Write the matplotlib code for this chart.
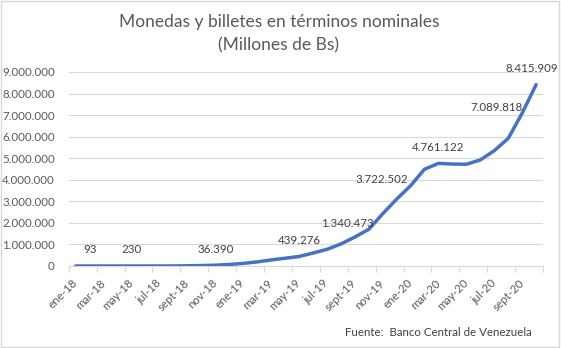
import matplotlib
matplotlib.use('Agg')
import matplotlib.pyplot as plt
from matplotlib.patches import Rectangle
from matplotlib.ticker import FuncFormatter, FixedLocator

plt.rcParams['font.family'] = ['Lato', 'DejaVu Sans']

# monthly series, ene-18 .. oct-20 (millones de Bs)
months = ['ene-18', 'feb-18', 'mar-18', 'abr-18', 'may-18', 'jun-18', 'jul-18', 'ago-18',
          'sept-18', 'oct-18', 'nov-18', 'dic-18',
          'ene-19', 'feb-19', 'mar-19', 'abr-19', 'may-19', 'jun-19', 'jul-19', 'ago-19',
          'sept-19', 'oct-19', 'nov-19', 'dic-19',
          'ene-20', 'feb-20', 'mar-20', 'abr-20', 'may-20', 'jun-20', 'jul-20', 'ago-20',
          'sept-20', 'oct-20']
values = [60, 93, 130, 170, 230, 350, 700, 2500,
          9000, 20000, 36390, 70000,
          120000, 190000, 280000, 360000, 439276, 600000, 770000, 1020000,
          1340473, 1700000, 2420000, 3100000,
          3722502, 4490000, 4761122, 4730000, 4720000, 4920000, 5350000, 5920000,
          7089818, 8415909]

# which points carry a data label, and where the label sits (pixels from the point)
label_idx = [1, 4, 10, 16, 20, 24, 26, 32, 33]
label_dx = [0, 0, 0, 0, -7, -2, 0, 0, -4]
label_dy = [16, 16, 16, 16, 14, 6, 16, 6, 16]
label_ha = ['center', 'center', 'center', 'center', 'center', 'right', 'center', 'right', 'center']


def miles(v, pos=None):
    return '{:,.0f}'.format(v).replace(',', '.')


fig = plt.figure(figsize=(5.61, 3.48), dpi=100)
ax = fig.add_axes([68.7 / 561, 1 - 266 / 348, (543.1 - 68.7) / 561, (266 - 72) / 348])

x = list(range(len(months)))
ax.plot(x, values, color='#4472C4', linewidth=2.5, solid_capstyle='round',
        solid_joinstyle='round', zorder=3)

ax.set_xlim(-0.5, len(months) - 0.5)
ax.set_ylim(0, 9000000)
ax.set_yticks(range(0, 9000001, 1000000))
ax.yaxis.set_major_formatter(FuncFormatter(miles))
ax.grid(axis='y', color='#d9d9d9', linewidth=0.8)
ax.set_axisbelow(True)

# ticks between categories, labels every two months
ax.xaxis.set_major_locator(FixedLocator([i - 0.5 for i in range(0, len(months) + 1, 2)]))
ax.set_xticklabels([])
ax.xaxis.set_minor_locator(FixedLocator(x[::2]))
ax.set_xticklabels(months[::2], minor=True, rotation=45, ha='right', va='center',
                   rotation_mode='anchor', fontsize=8.3, color='#595959')
ax.tick_params(axis='x', which='major', length=4, color='#d9d9d9', width=0.8)
ax.tick_params(axis='x', which='minor', length=0, pad=11)
ax.tick_params(axis='y', length=0, labelsize=8.3, labelcolor='#595959', pad=10)

for s in ['top', 'right', 'left']:
    ax.spines[s].set_visible(False)
ax.spines['bottom'].set_color('#d9d9d9')
ax.spines['bottom'].set_linewidth(0.8)

for i, dx, dy, ha in zip(label_idx, label_dx, label_dy, label_ha):
    ax.annotate(miles(values[i]), (x[i], values[i]), xytext=(dx, dy),
                textcoords='offset pixels', ha=ha, va='center',
                fontsize=8.3, color='#404040')

fig.text(0.497, 1 - 22 / 348, 'Monedas y billetes en términos nominales',
         ha='center', va='center', fontsize=12.5, color='#595959')
fig.text(0.497, 1 - 45 / 348, '(Millones de Bs)',
         ha='center', va='center', fontsize=12.5, color='#595959')
fig.text(532 / 561, 1 - 332.5 / 348, 'Fuente:  Banco Central de Venezuela',
         ha='right', va='center', fontsize=8.3, color='#404040')

fig.patches.append(Rectangle((0.001, 0.002), 0.996, 0.995, transform=fig.transFigure,
                             fill=False, edgecolor='#d9d9d9', linewidth=1))

fig.savefig('out.png', dpi=100)
